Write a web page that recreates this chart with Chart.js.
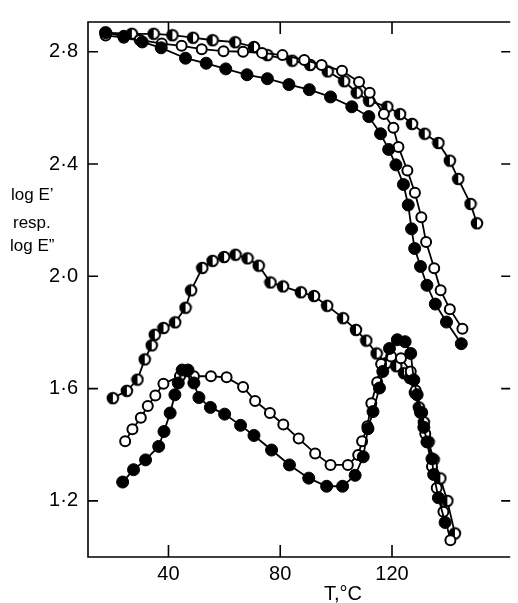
<!DOCTYPE html>
<html>
<head>
<meta charset="utf-8">
<script src="https://cdn.jsdelivr.net/npm/chart.js@4.4.1/dist/chart.umd.min.js"></script>
<style>
html,body{margin:0;padding:0;background:#fff;overflow:hidden;width:518px;height:603px;}
canvas{display:block;}
</style>
</head>
<body>
<canvas id="c" width="518" height="603"></canvas>
<script>
// ---- axis ticks ----
const xTicks = [40, 80, 120];
const yTicks = [1.2, 1.6, 2.0, 2.4, 2.8];

// ---- log E' (storage) ----
const filledEpT = [17.5, 24.0, 30.6, 37.4, 46.1, 53.5, 60.5, 68.1, 75.4, 83.1, 90.4, 98.0, 105.6, 111.7, 115.9, 118.8, 121.4, 124.1, 125.8, 127.0, 128.1, 130.2, 132.5, 135.5, 139.5, 144.8];
const filledEpV = [2.868, 2.855, 2.835, 2.814, 2.777, 2.759, 2.739, 2.718, 2.704, 2.683, 2.665, 2.639, 2.604, 2.569, 2.508, 2.452, 2.397, 2.327, 2.254, 2.169, 2.099, 2.035, 1.968, 1.901, 1.837, 1.760];

const openEpT = [17.5, 24.0, 29.7, 37.6, 44.7, 51.9, 59.7, 66.7, 73.5, 80.8, 88.6, 94.8, 102.1, 108.2, 112.0, 117.1, 120.5, 122.3, 125.5, 128.2, 130.5, 132.2, 135.1, 137.4, 140.7, 145.2];
const openEpV = [2.858, 2.850, 2.842, 2.829, 2.821, 2.809, 2.802, 2.800, 2.796, 2.788, 2.771, 2.753, 2.732, 2.692, 2.654, 2.578, 2.529, 2.461, 2.377, 2.298, 2.210, 2.122, 2.029, 1.950, 1.883, 1.813];

const halfEpT = [17.5, 26.9, 34.7, 41.4, 48.8, 55.8, 63.9, 70.6, 75.4, 84.3, 90.7, 97.0, 102.9, 107.4, 111.8, 118.3, 122.9, 127.2, 131.7, 136.6, 140.7, 143.7, 148.1, 150.4];
const halfEpV = [2.868, 2.864, 2.864, 2.859, 2.850, 2.841, 2.834, 2.817, 2.788, 2.768, 2.753, 2.730, 2.695, 2.654, 2.625, 2.604, 2.578, 2.543, 2.508, 2.475, 2.412, 2.347, 2.258, 2.189];

// ---- log E'' (loss) ----
const filledEppT = [23.6, 27.5, 31.8, 36.5, 38.4, 40.6, 42.3, 43.5, 44.9, 47.0, 49.1, 50.9, 55.0, 60.1, 65.8, 70.6, 76.9, 83.3, 90.2, 96.6, 102.3, 106.8, 109.7, 111.4, 113.2, 115.5, 116.7, 119.1, 121.9, 124.7, 126.7, 127.8, 129.0, 130.2, 131.4, 132.5, 134.3, 134.9, 136.6, 139.0];
const filledEppV = [1.267, 1.311, 1.346, 1.394, 1.447, 1.513, 1.578, 1.620, 1.666, 1.666, 1.620, 1.568, 1.533, 1.509, 1.469, 1.433, 1.381, 1.328, 1.281, 1.252, 1.252, 1.291, 1.357, 1.457, 1.518, 1.602, 1.661, 1.743, 1.774, 1.767, 1.725, 1.631, 1.578, 1.515, 1.462, 1.410, 1.350, 1.294, 1.211, 1.123];

const openEppT = [24.5, 27.1, 30.1, 32.6, 35.3, 38.2, 44.1, 49.1, 55.2, 60.8, 66.7, 71.0, 76.3, 81.1, 86.6, 92.5, 98.0, 104.2, 107.9, 109.3, 111.2, 112.6, 114.7, 116.1, 119.7, 123.2, 126.7, 128.5, 130.8, 131.9, 134.3, 136.0, 138.4, 140.9];
const openEppV = [1.412, 1.455, 1.496, 1.538, 1.575, 1.617, 1.644, 1.644, 1.644, 1.640, 1.606, 1.556, 1.513, 1.472, 1.422, 1.369, 1.328, 1.328, 1.363, 1.412, 1.466, 1.548, 1.623, 1.688, 1.714, 1.708, 1.661, 1.593, 1.515, 1.439, 1.322, 1.246, 1.161, 1.060];

const halfEppT = [20.1, 25.1, 28.9, 31.5, 34.0, 35.1, 38.2, 42.4, 46.1, 48.1, 52.1, 55.8, 59.9, 64.0, 68.3, 72.3, 76.5, 81.0, 87.4, 92.1, 96.8, 102.5, 107.1, 110.8, 114.5, 118.0, 121.5, 124.3, 126.4, 128.2, 129.6, 131.4, 133.1, 134.9, 137.3, 139.8, 142.5];
const halfEppV = [1.566, 1.592, 1.632, 1.704, 1.754, 1.792, 1.816, 1.836, 1.888, 1.950, 2.030, 2.055, 2.069, 2.077, 2.064, 2.038, 1.978, 1.964, 1.943, 1.930, 1.895, 1.851, 1.809, 1.771, 1.725, 1.691, 1.680, 1.655, 1.638, 1.585, 1.533, 1.480, 1.410, 1.347, 1.280, 1.200, 1.084];

// ---- helpers ----
const zip = (t, v) => t.map((x, i) => ({x: x, y: v[i]}));

function halfMarker(){
  const c = document.createElement('canvas');
  c.width = 14; c.height = 14;
  const g = c.getContext('2d');
  g.beginPath(); g.arc(7, 7, 5.3, 0, Math.PI * 2); g.fillStyle = '#fff'; g.fill();
  g.beginPath(); g.moveTo(7, 7); g.arc(7, 7, 5.3, Math.PI / 2, Math.PI * 1.5); g.closePath(); g.fillStyle = '#000'; g.fill();
  g.beginPath(); g.arc(7, 7, 5.3, 0, Math.PI * 2); g.lineWidth = 2; g.strokeStyle = '#000'; g.stroke();
  return c;
}
const halfImg = halfMarker();

const styleFilled = {pointStyle: 'circle', pointRadius: 6, pointBackgroundColor: '#000', pointBorderColor: '#000', pointBorderWidth: 1};
const styleOpen = {pointStyle: 'circle', pointRadius: 5, pointBackgroundColor: '#fff', pointBorderColor: '#000', pointBorderWidth: 2};
const styleHalf = {pointStyle: halfImg, pointRadius: 6};
const lineCommon = {showLine: true, borderColor: '#000', borderWidth: 1.8, tension: 0, fill: false};

const datasets = [
  Object.assign({label: 'filled E\u2032', data: zip(filledEpT, filledEpV)}, lineCommon, styleFilled),
  Object.assign({label: 'open E\u2032', data: zip(openEpT, openEpV)}, lineCommon, styleOpen),
  Object.assign({label: 'half E\u2032', data: zip(halfEpT, halfEpV)}, lineCommon, styleHalf),
  Object.assign({label: 'filled E\u2033', data: zip(filledEppT, filledEppV)}, lineCommon, styleFilled),
  Object.assign({label: 'open E\u2033', data: zip(openEppT, openEppV)}, lineCommon, styleOpen),
  Object.assign({label: 'half E\u2033', data: zip(halfEppT, halfEppV)}, lineCommon, styleHalf)
];

const decor = {
  id: 'decor',
  beforeDatasetsDraw(chart){
    const ctx = chart.ctx, a = chart.chartArea, x = chart.scales.x, y = chart.scales.y;
    ctx.save();
    ctx.strokeStyle = '#000';
    ctx.lineWidth = 1.6;
    ctx.beginPath();
    ctx.moveTo(a.right, a.top); ctx.lineTo(a.left, a.top);
    ctx.lineTo(a.left, a.bottom); ctx.lineTo(a.right, a.bottom);
    yTicks.forEach(v => {
      const p = y.getPixelForValue(v);
      ctx.moveTo(a.left, p); ctx.lineTo(a.left + 10, p);
      ctx.moveTo(a.right, p); ctx.lineTo(a.right - 9, p);
    });
    xTicks.forEach(v => {
      const p = x.getPixelForValue(v);
      ctx.moveTo(p, a.bottom); ctx.lineTo(p, a.bottom - 12);
      ctx.moveTo(p, a.top); ctx.lineTo(p, a.top + 12);
    });
    ctx.stroke();
    ctx.restore();
  },
  afterDraw(chart){
    const ctx = chart.ctx;
    ctx.save();
    ctx.fillStyle = '#000';
    ctx.textBaseline = 'alphabetic';
    ctx.font = '20px "Liberation Sans"';
    ctx.textAlign = 'center';
    ctx.fillText('T,\u00B0C', 343, 600);
    ctx.font = '17px "Liberation Sans"';
    ctx.textAlign = 'left';
    ctx.fillText('log E\u2019', 11, 200);
    ctx.fillText('resp.', 13, 228);
    ctx.fillText('log E\u201D', 10, 251);
    ctx.restore();
  }
};

Chart.defaults.font.family = '"Liberation Sans", Arial, sans-serif';
Chart.defaults.color = '#000';

new Chart(document.getElementById('c'), {
  type: 'scatter',
  data: {datasets: datasets},
  options: {
    responsive: false,
    animation: false,
    events: [],
    layout: {padding: {top: 13, left: 0, right: 0, bottom: 0}},
    plugins: {legend: {display: false}, tooltip: {enabled: false}},
    scales: {
      x: {
        type: 'linear', position: 'bottom', min: 11.2, max: 162.3,
        grid: {display: false, drawTicks: false},
        border: {display: false},
        ticks: {font: {size: 20}, padding: 5, autoSkip: false, maxRotation: 0},
        afterBuildTicks: s => { s.ticks = xTicks.map(v => ({value: v})); },
        afterFit: s => { s.height = 46; }
      },
      y: {
        type: 'linear', position: 'left', min: 1.0, max: 2.906,
        grid: {display: false, drawTicks: false},
        border: {display: false},
        ticks: {font: {size: 20}, padding: 10, autoSkip: false,
          callback: v => v.toFixed(1).replace('.', '\u00B7')},
        afterBuildTicks: s => { s.ticks = yTicks.map(v => ({value: v})); },
        afterFit: s => { s.width = 88; }
      }
    }
  },
  plugins: [decor]
});
</script>
</body>
</html>
